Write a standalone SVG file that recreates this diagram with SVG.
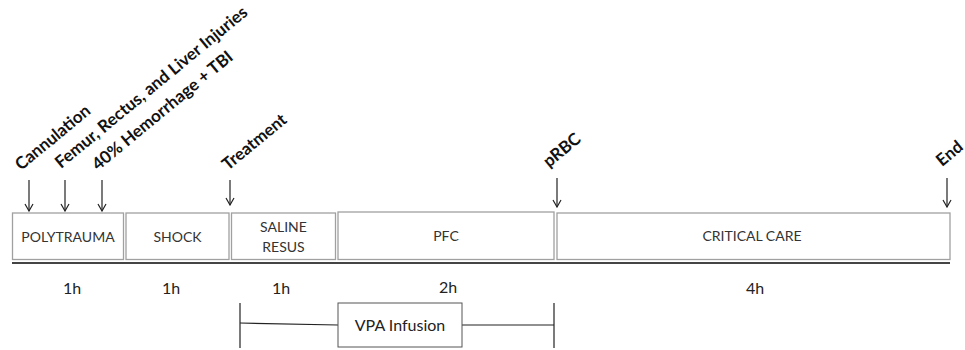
<svg xmlns="http://www.w3.org/2000/svg" width="965" height="350" viewBox="0 0 965 350">
<style>
.box{fill:#fff;stroke:#a0a0a0;stroke-width:1.3}
.lbl{font-family:Lato,"Liberation Sans",sans-serif;font-size:14px;fill:#333;text-anchor:middle}
.dur{font-family:Lato,"Liberation Sans",sans-serif;font-size:16px;fill:#222;text-anchor:middle}
.ev{font-family:Lato,"Liberation Sans",sans-serif;font-size:17px;font-weight:bold;fill:#111}
.arr{stroke:#222;stroke-width:1.2;fill:none}
.ln{stroke:#222;stroke-width:1.2;fill:none}
</style>
<defs>
<marker id="ah" markerWidth="10" markerHeight="10" refX="9" refY="5" orient="auto" markerUnits="userSpaceOnUse" viewBox="0 0 10 10">
<path d="M2,1 L9,5 L2,9" fill="none" stroke="#222" stroke-width="1.2"/>
</marker>
</defs>
<g id="connectors">
<line class="arr" x1="29" y1="180" x2="29" y2="211" marker-end="url(#ah)"/>
<line class="arr" x1="65" y1="180" x2="65" y2="211" marker-end="url(#ah)"/>
<line class="arr" x1="102" y1="180" x2="102" y2="211" marker-end="url(#ah)"/>
<line class="arr" x1="230" y1="180" x2="230" y2="205" marker-end="url(#ah)"/>
<line class="arr" x1="557" y1="178" x2="557" y2="207" marker-end="url(#ah)"/>
<line class="arr" x1="947" y1="178" x2="947" y2="207" marker-end="url(#ah)"/>
<line x1="12" y1="263" x2="950" y2="263" stroke="#444" stroke-width="2"/>
<line class="ln" x1="240" y1="303" x2="240" y2="348"/>
<line class="ln" x1="554" y1="303" x2="554" y2="348"/>
<line class="ln" x1="240" y1="323" x2="338" y2="325"/>
<line class="ln" x1="462" y1="325" x2="554" y2="325"/>
</g>
<g id="events">
<text class="ev" transform="translate(21,171) rotate(-39.5)">Cannulation</text>
<text class="ev" transform="translate(61,169) rotate(-39.5)">Femur, Rectus, and Liver Injuries</text>
<text class="ev" transform="translate(98,171) rotate(-39.5)">40% Hemorrhage + TBI</text>
<text class="ev" transform="translate(228,171) rotate(-39.5)">Treatment</text>
<text class="ev" transform="translate(549,168) rotate(-39.5)">pRBC</text>
<text class="ev" transform="translate(942,167) rotate(-39.5)">End</text>
</g>
<g id="polytrauma"><rect class="box" x="12.5" y="213" width="111" height="46.5"/><text class="lbl" x="68" y="242">POLYTRAUMA</text></g>
<g id="shock"><rect class="box" x="126" y="213" width="103" height="46.5"/><text class="lbl" x="177.5" y="242">SHOCK</text></g>
<g id="saline"><rect class="box" x="231.5" y="213" width="104" height="46.5"/><text class="lbl" x="283.5" y="232">SALINE</text><text class="lbl" x="283.5" y="252">RESUS</text></g>
<g id="pfc"><rect class="box" x="338" y="212" width="216" height="47.5"/><text class="lbl" x="446" y="241">PFC</text></g>
<g id="critical"><rect class="box" x="557" y="213" width="393" height="46.5"/><text class="lbl" x="752" y="241">CRITICAL CARE</text></g>
<g id="durations">
<text class="dur" x="72" y="294">1h</text>
<text class="dur" x="171" y="294">1h</text>
<text class="dur" x="281" y="294">1h</text>
<text class="dur" x="448" y="293">2h</text>
<text class="dur" x="755" y="294">4h</text>
</g>
<g id="vpa"><rect x="338" y="303" width="124" height="44" fill="#fff" stroke="#555" stroke-width="1"/><text class="dur" x="400" y="331">VPA Infusion</text></g>
</svg>
